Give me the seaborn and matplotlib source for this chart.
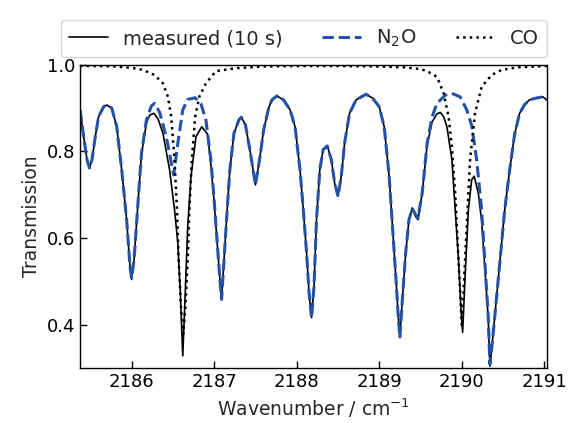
import numpy as np
import pandas as pd
import matplotlib
matplotlib.use('Agg')
import matplotlib.pyplot as plt
import seaborn as sns

# Values (wavenumber in cm-1, transmission)
n2o_wn = [2185.376, 2185.42, 2185.46, 2185.49, 2185.52, 2185.56, 2185.60, 2185.66, 2185.70, 2185.76,
          2185.82, 2185.88, 2185.94, 2185.98, 2186.00, 2186.03, 2186.08, 2186.12, 2186.18, 2186.24,
          2186.28, 2186.34, 2186.42, 2186.46, 2186.51, 2186.56, 2186.62, 2186.68, 2186.77, 2186.84,
          2186.90, 2186.96, 2187.00, 2187.04, 2187.07, 2187.09, 2187.11, 2187.15, 2187.19, 2187.24,
          2187.30, 2187.33, 2187.38, 2187.44, 2187.50, 2187.55, 2187.60, 2187.66, 2187.70, 2187.76,
          2187.84, 2187.92, 2187.98, 2188.04, 2188.08, 2188.12, 2188.15, 2188.18, 2188.21, 2188.24,
          2188.28, 2188.32, 2188.37, 2188.42, 2188.46, 2188.50, 2188.54, 2188.58, 2188.64, 2188.72,
          2188.84, 2188.92, 2189.00, 2189.06, 2189.12, 2189.16, 2189.20, 2189.23, 2189.25, 2189.28,
          2189.32, 2189.36, 2189.40, 2189.44, 2189.47, 2189.52, 2189.58, 2189.64, 2189.70, 2189.80,
          2189.88, 2189.98, 2190.06, 2190.12, 2190.18, 2190.24, 2190.28, 2190.32, 2190.34, 2190.37,
          2190.40, 2190.46, 2190.52, 2190.58, 2190.64, 2190.70, 2190.76, 2190.82, 2190.90, 2190.98,
          2191.03]
n2o_tr = [0.896, 0.834, 0.781, 0.762, 0.781, 0.834, 0.880, 0.903, 0.907, 0.900,
          0.857, 0.758, 0.643, 0.536, 0.509, 0.551, 0.689, 0.796, 0.873, 0.905,
          0.911, 0.890, 0.834, 0.795, 0.746, 0.819, 0.896, 0.920, 0.924, 0.910,
          0.873, 0.781, 0.689, 0.582, 0.505, 0.459, 0.520, 0.643, 0.758, 0.842,
          0.873, 0.879, 0.861, 0.796, 0.723, 0.781, 0.850, 0.900, 0.919, 0.928,
          0.919, 0.896, 0.857, 0.758, 0.666, 0.566, 0.474, 0.417, 0.490, 0.643,
          0.758, 0.804, 0.813, 0.781, 0.727, 0.697, 0.743, 0.819, 0.888, 0.919,
          0.932, 0.923, 0.903, 0.857, 0.743, 0.628, 0.513, 0.421, 0.371, 0.459,
          0.566, 0.643, 0.668, 0.655, 0.647, 0.704, 0.819, 0.880, 0.911, 0.930,
          0.934, 0.926, 0.896, 0.860, 0.781, 0.666, 0.543, 0.421, 0.310, 0.360,
          0.421, 0.543, 0.666, 0.758, 0.840, 0.888, 0.908, 0.919, 0.923, 0.926,
          0.919]

meas_wn = [2185.376, 2185.42, 2185.46, 2185.49, 2185.52, 2185.56, 2185.60, 2185.66, 2185.70, 2185.76,
           2185.82, 2185.88, 2185.94, 2185.98, 2186.00, 2186.03, 2186.08, 2186.12, 2186.18, 2186.22,
           2186.27, 2186.32, 2186.38, 2186.46, 2186.52, 2186.56, 2186.59, 2186.62, 2186.65, 2186.68,
           2186.72, 2186.78, 2186.85, 2186.92, 2186.96, 2187.00, 2187.04, 2187.07, 2187.09, 2187.11,
           2187.15, 2187.19, 2187.24, 2187.30, 2187.33, 2187.38, 2187.44, 2187.50, 2187.55, 2187.60,
           2187.66, 2187.70, 2187.76, 2187.84, 2187.92, 2187.98, 2188.04, 2188.08, 2188.12, 2188.15,
           2188.18, 2188.21, 2188.24, 2188.28, 2188.32, 2188.37, 2188.42, 2188.46, 2188.50, 2188.54,
           2188.58, 2188.64, 2188.72, 2188.84, 2188.92, 2189.00, 2189.06, 2189.12, 2189.16, 2189.20,
           2189.23, 2189.25, 2189.28, 2189.32, 2189.36, 2189.40, 2189.44, 2189.47, 2189.52, 2189.58,
           2189.64, 2189.70, 2189.74, 2189.78, 2189.82, 2189.88, 2189.92, 2189.96, 2189.99, 2190.01,
           2190.04, 2190.08, 2190.12, 2190.15, 2190.20, 2190.24, 2190.28, 2190.32, 2190.34, 2190.37,
           2190.40, 2190.46, 2190.52, 2190.58, 2190.64, 2190.70, 2190.76, 2190.82, 2190.90, 2190.98,
           2191.03]
meas_tr = [0.896, 0.834, 0.781, 0.762, 0.781, 0.834, 0.880, 0.903, 0.907, 0.900,
           0.857, 0.758, 0.643, 0.536, 0.505, 0.551, 0.689, 0.794, 0.866, 0.884,
           0.888, 0.875, 0.842, 0.758, 0.666, 0.589, 0.475, 0.329, 0.475, 0.628,
           0.743, 0.834, 0.857, 0.840, 0.770, 0.685, 0.580, 0.505, 0.459, 0.520,
           0.643, 0.758, 0.842, 0.873, 0.879, 0.861, 0.796, 0.723, 0.781, 0.850,
           0.900, 0.919, 0.928, 0.919, 0.896, 0.857, 0.758, 0.666, 0.566, 0.474,
           0.417, 0.490, 0.643, 0.758, 0.804, 0.813, 0.781, 0.727, 0.697, 0.743,
           0.819, 0.888, 0.919, 0.932, 0.923, 0.903, 0.857, 0.743, 0.628, 0.513,
           0.421, 0.371, 0.459, 0.566, 0.643, 0.670, 0.650, 0.643, 0.704, 0.815,
           0.868, 0.887, 0.890, 0.880, 0.857, 0.781, 0.666, 0.551, 0.436, 0.383,
           0.513, 0.666, 0.735, 0.743, 0.704, 0.640, 0.530, 0.415, 0.305, 0.360,
           0.421, 0.543, 0.666, 0.758, 0.840, 0.888, 0.908, 0.919, 0.923, 0.926,
           0.919]

co_wn = [2185.376, 2185.60, 2185.80, 2186.00, 2186.14, 2186.28, 2186.38, 2186.44, 2186.48, 2186.52,
         2186.55, 2186.57, 2186.60, 2186.625, 2186.65, 2186.68, 2186.70, 2186.73, 2186.77, 2186.82,
         2186.90, 2187.02, 2187.26, 2187.60, 2188.00, 2188.50, 2189.00, 2189.30, 2189.50, 2189.58,
         2189.70, 2189.78, 2189.84, 2189.88, 2189.92, 2189.96, 2190.00, 2190.04, 2190.07, 2190.10,
         2190.16, 2190.24, 2190.36, 2190.48, 2190.68, 2191.03]
co_tr = [0.997, 0.997, 0.996, 0.993, 0.988, 0.976, 0.957, 0.926, 0.880, 0.781,
         0.666, 0.551, 0.436, 0.380, 0.436, 0.551, 0.666, 0.781, 0.880, 0.926,
         0.957, 0.985, 0.992, 0.996, 0.997, 0.997, 0.996, 0.994, 0.990, 0.985,
         0.972, 0.934, 0.880, 0.811, 0.704, 0.551, 0.400, 0.551, 0.666, 0.781,
         0.888, 0.949, 0.976, 0.988, 0.994, 0.997]

x_ticks = [2186, 2187, 2188, 2189, 2190, 2191]
y_ticks = [0.4, 0.6, 0.8, 1.0]

sns.set_style('white')
plt.rcParams['font.family'] = ['DejaVu Sans']
plt.rcParams['xtick.direction'] = 'in'
plt.rcParams['ytick.direction'] = 'in'

fig = plt.figure(figsize=(5.72, 4.23), dpi=100)
ax = fig.add_axes([0.14, 0.129, 0.816, 0.718])

sns.lineplot(x=meas_wn, y=meas_tr, ax=ax, color='black', linewidth=1.2,
             label='measured (10 s)', sort=False)
sns.lineplot(x=n2o_wn, y=n2o_tr, ax=ax, color='#2352a8', linewidth=2.2,
             linestyle='--', label=r'N$_2$O', sort=False)
sns.lineplot(x=co_wn, y=co_tr, ax=ax, color='black', linewidth=1.8,
             linestyle=':', label='CO', sort=False)

ax.set_xlim(2185.376, 2191.03)
ax.set_ylim(0.3, 1.0)
ax.set_xticks(x_ticks)
ax.set_yticks(y_ticks)
ax.set_xticklabels([str(t) for t in x_ticks])
ax.set_yticklabels([f'{t:.1f}' for t in y_ticks])
ax.tick_params(axis='both', which='major', labelsize=13, length=5, width=1,
               bottom=True, left=True, top=False, right=False, colors='black')
for s in ax.spines.values():
    s.set_color('black')
    s.set_linewidth(1.0)

ax.set_xlabel(r'Wavenumber / cm$^{-1}$', fontsize=13.5)
ax.set_ylabel('Transmission', fontsize=13.5)

ax.legend(loc='lower right', bbox_to_anchor=(1.0, 1.025), ncol=3, fontsize=14,
          frameon=True, borderaxespad=0.0)

fig.savefig('out.png', dpi=100)
